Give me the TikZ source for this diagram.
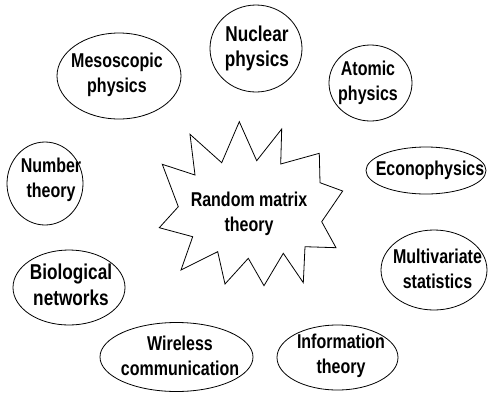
\documentclass[tikz,border=0pt]{standalone}
\usepackage{fontspec}
\setmainfont{Liberation Sans}[FakeStretch=0.8]
\usetikzlibrary{shapes.geometric}
\begin{document}
\begin{tikzpicture}[x=1pt,y=-1pt,
  lbl/.style={font=\bfseries\fontsize{20}{25.5}\selectfont, align=center, inner sep=0pt},
  biglbl/.style={font=\bfseries\fontsize{21.5}{25.5}\selectfont, align=center, inner sep=0pt},
  field/.style={draw, ellipse, line width=0.8pt, inner sep=0pt},
  burst/.style={draw, line width=0.8pt, line join=miter}]
\useasboundingbox (0,0) rectangle (488,392);
\draw[burst] (239.3,121.7) -- (256.7,160.7) -- (281.7,129) -- (280.7,164) -- (319.3,153.3) -- (320,182.7) -- (342.7,191) -- (321.7,221.7) -- (336,247.7) -- (305,246.7) -- (303.3,282.7) -- (283.3,253.3) -- (264,285.7) -- (248.3,258.3) -- (225,284) -- (217.7,251.7) -- (181,270) -- (192.7,236.7) -- (159.3,227.7) -- (178.3,206.7) -- (162.3,164.3) -- (195,175) -- (190,134.3) -- (221.7,162.7) -- cycle;
\node[lbl] (rmt) at (249,214) {Random matrix\\theory};
% ellipses
\node[field, minimum width=124pt, minimum height=86pt] (meso) at (119,76) {};
\node[field, minimum width=92pt, minimum height=87pt] (nuc) at (256,48.5) {};
\node[field, minimum width=83pt, minimum height=76pt] (atom) at (370.5,83) {};
\node[field, minimum width=120pt, minimum height=47pt] (econ) at (426,170.5) {};
\node[field, minimum width=76pt, minimum height=83pt] (num) at (45,183.5) {};
\node[field, minimum width=112pt, minimum height=75pt] (bio) at (69,287.5) {};
\node[field, minimum width=106pt, minimum height=80pt] (multi) at (434,270) {};
\node[field, minimum width=153pt, minimum height=69pt] (wire) at (176.5,357) {};
\node[field, minimum width=121pt, minimum height=65pt] (info) at (337.5,357.5) {};
% labels
\node[lbl] (meso-t) at (117,75) {Mesoscopic\\physics};
\node[biglbl] (nuc-t) at (257,48.5) {Nuclear\\physics};
\node[lbl] (atom-t) at (368,83) {Atomic\\physics};
\node[lbl] (econ-t) at (430,170) {Econophysics};
\node[lbl] (num-t) at (51,180) {Number\\theory};
\node[biglbl] (bio-t) at (71,285) {Biological\\networks};
\node[lbl] (multi-t) at (437.5,269) {Multivariate\\statistics};
\node[lbl] (wire-t) at (180,356) {Wireless\\communication};
\node[lbl] (info-t) at (341,356) {Information\\theory};
\end{tikzpicture}
\end{document}
